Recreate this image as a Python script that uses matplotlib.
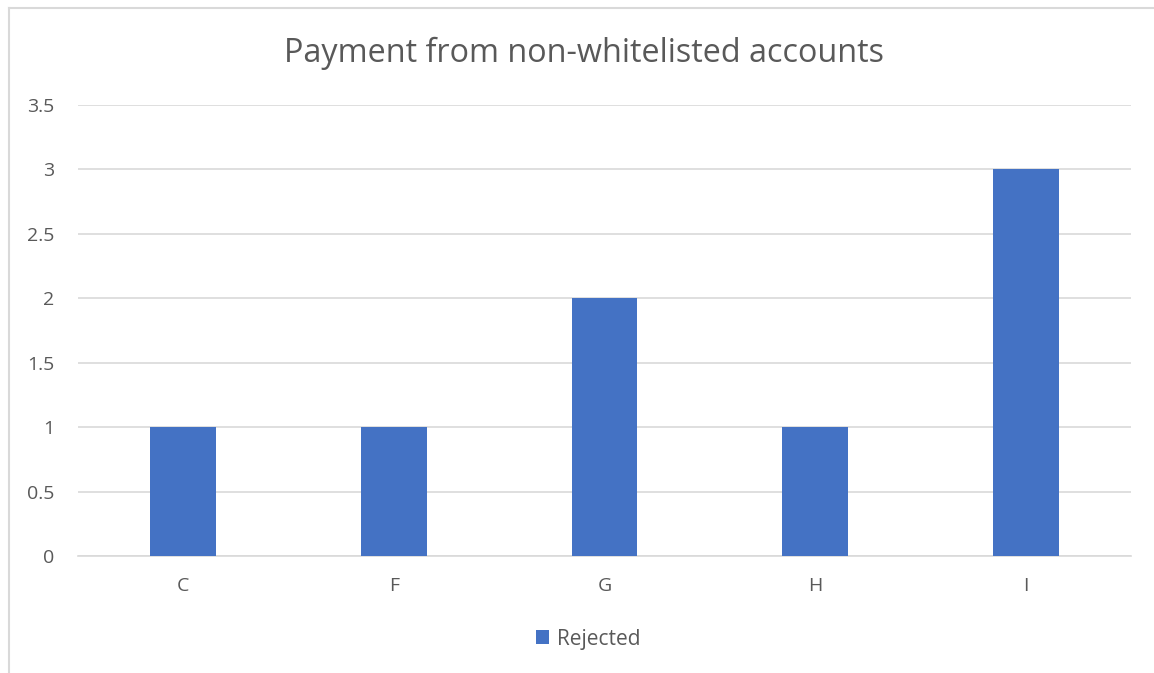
import matplotlib
matplotlib.use("Agg")
import matplotlib.pyplot as plt
from matplotlib.lines import Line2D
from matplotlib.patches import Patch

categories = ["C", "F", "G", "H", "I"]
rejected = [1, 1, 2, 1, 3]
yticks = [0, 0.5, 1, 1.5, 2, 2.5, 3, 3.5]
ytick_labels = ["0", "0.5", "1", "1.5", "2", "2.5", "3", "3.5"]

W, H = 1154, 673
plt.rcParams['font.family'] = ['Open Sans', 'DejaVu Sans']
fig = plt.figure(figsize=(W / 100, H / 100), dpi=100)
fig.patch.set_facecolor("white")

# chart border (top and left visible)
fig.add_artist(Line2D([8.5 / W, 8.5 / W], [0, 1 - 7.5 / H], transform=fig.transFigure, color="#D9D9D9", lw=1.5))
fig.add_artist(Line2D([8.5 / W, 1], [1 - 7.5 / H, 1 - 7.5 / H], transform=fig.transFigure, color="#D9D9D9", lw=1.5))

left, right, top, bottom = 78, 1131, 105, 556
ax = fig.add_axes([left / W, 1 - bottom / H, (right - left) / W, (bottom - top) / H])
x = list(range(len(categories)))
ax.bar(x, rejected, width=0.313, color="#4472C4", zorder=3, label="Rejected")
ax.set_xlim(-0.5, len(categories) - 0.5)
ax.set_ylim(0, 3.5)
ax.set_yticks(yticks)
ax.set_yticklabels(ytick_labels)
ax.set_xticks(x)
ax.set_xticklabels(categories)
ax.yaxis.grid(True, color="#D9D9D9", lw=1.2, zorder=0)
for s in ["top", "right", "left"]:
    ax.spines[s].set_visible(False)
ax.spines["bottom"].set_color("#D9D9D9")
ax.spines["bottom"].set_linewidth(1.2)
ax.tick_params(axis="both", length=0, labelsize=14, colors="#595959")
ax.tick_params(axis="y", pad=17)
ax.tick_params(axis="x", pad=15)

fig.text(584 / W, 1 - 62 / H, "Payment from non-whitelisted accounts", ha="center", va="baseline",
         fontsize=23.3, color="#595959")

handles = [Patch(facecolor="#4472C4", edgecolor="none", label="Rejected")]
fig.legend(handles=handles, loc="center", bbox_to_anchor=(588 / W, 1 - 639 / H), frameon=False,
           fontsize=15, labelcolor="#595959", handlelength=0.65, handleheight=0.65, handletextpad=0.35)

fig.savefig("out.png", dpi=100)
